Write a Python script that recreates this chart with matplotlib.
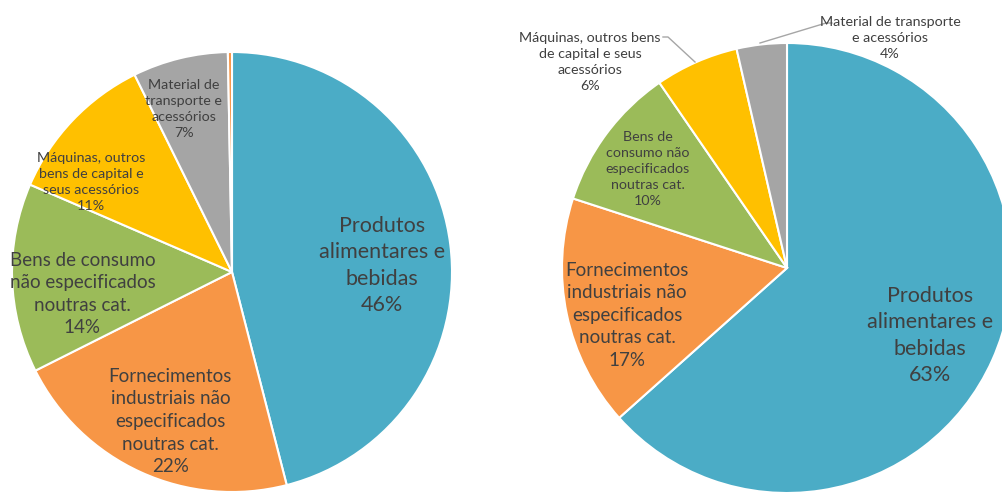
import matplotlib
matplotlib.use("Agg")
import matplotlib.pyplot as plt

plt.rcParams['font.family'] = ['Lato', 'DejaVu Sans']

# shares (%), clockwise from 12 o'clock
left_values = [46.0, 21.6, 13.9, 11.2, 7.0, 0.3]
right_values = [63.4, 16.6, 10.4, 6.0, 3.6]

left_labels = [
    "Produtos\nalimentares e\nbebidas",
    "Fornecimentos\nindustriais não\nespecificados\nnoutras cat.",
    "Bens de consumo\nnão especificados\nnoutras cat.",
    "Máquinas, outros\nbens de capital e\nseus acessórios",
    "Material de\ntransporte e\nacessórios",
    None,
]
right_labels = [
    "Produtos\nalimentares e\nbebidas",
    "Fornecimentos\nindustriais não\nespecificados\nnoutras cat.",
    "Bens de\nconsumo não\nespecificados\nnoutras cat.",
    "Máquinas, outros bens\nde capital e seus\nacessórios",
    "Material de transporte\ne acessórios",
]

colors = ["#4BACC6", "#F79646", "#9BBB59", "#FFC000", "#A5A5A5", "#F79646"]
text_color = "#404040"

# layout: label anchors relative to each pie centre (in radii) and font sizes
left_pos = [(0.68, 0.03), (-0.28, -0.68), (-0.68, -0.10), (-0.64, 0.41), (-0.22, 0.74)]
left_size = [15.5, 13.5, 13.5, 10.3, 10.3]
right_pos = [(0.636, -0.30), (-0.71, -0.21), (-0.62, 0.44), (-0.876, 0.916), (0.458, 1.022)]
right_size = [15.5, 13.5, 10.3, 10.3, 10.3]

W, H = 1003, 493
fig = plt.figure(figsize=(W / 100, H / 100), dpi=100)
ax = fig.add_axes([0, 0, 1, 1])


def draw_pie(values, labels, pos, sizes, center, radius):
    ax.pie(values, colors=colors[:len(values)], startangle=90, counterclock=False,
           center=center, radius=radius, frame=True,
           wedgeprops=dict(edgecolor='white', linewidth=1.5))
    for v, lab, (px, py), fs in zip(values, labels, pos, sizes):
        if lab is None:
            continue
        ax.text(center[0] + px * radius, center[1] + py * radius,
                f"{lab}\n{round(v):.0f}%", ha='center', va='center',
                fontsize=fs, color=text_color, linespacing=1.4)


draw_pie(left_values, left_labels, left_pos, left_size, (232, 221), 220)
draw_pie(right_values, right_labels, right_pos, right_size, (787, 225), 225)

# leader lines for the two outside labels on the right pie
ax.plot([695, 668, 663], [431, 456, 456], color="#A6A6A6", lw=1)
ax.plot([760, 826, 832], [450, 470, 470], color="#A6A6A6", lw=1)

ax.set_xlim(0, W)
ax.set_ylim(0, H)
ax.set_aspect('equal')
ax.axis('off')

fig.savefig("out.png", dpi=100)
